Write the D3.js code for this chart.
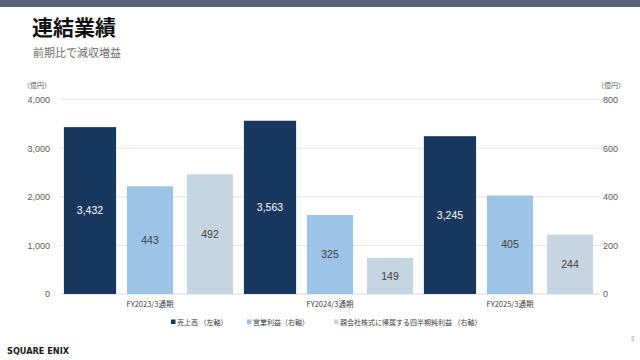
<!DOCTYPE html>
<html><head><meta charset="utf-8">
<script src="https://cdn.jsdelivr.net/npm/d3@7"></script>
<style>
html,body{margin:0;padding:0;background:#fff;}
svg{display:block;font-family:"Noto Sans CJK JP","Noto Sans",sans-serif;}
</style></head>
<body>
<svg id="c" width="640" height="360"></svg>
<script>
const categories = ["FY2023/3通期", "FY2024/3通期", "FY2025/3通期"];
const sales = [3432, 3563, 3245];          // 売上高（左軸）
const operatingIncome = [443, 325, 405];   // 営業利益（右軸）
const netIncome = [492, 149, 244];         // 親会社株式に帰属する四半期純利益（右軸）
const leftTicks = [0, 1000, 2000, 3000, 4000];
const rightTicks = [0, 200, 400, 600, 800];
const seriesNames = ["売上高 （左軸）", "営業利益（右軸）", "親会社株式に帰属する四半期純利益 （右軸）"];

(function () {
const svg = d3.select("#c");
const colors = ["#17375e", "#9dc3e6", "#c5d5e1"];
const labelColors = ["#ffffff", "#404040", "#404040"];
const widthFrac = [0.87, 0.77, 0.77];
const numFont = '"Liberation Sans","Arial",sans-serif';

// header band
svg.append("rect").attr("x",0).attr("y",0).attr("width",640).attr("height",7).attr("fill","#5b6577");
svg.append("text").attr("x",32).attr("y",35).attr("font-size",21).attr("font-weight","bold").attr("fill","#111").text("連結業績");
svg.append("text").attr("x",33).attr("y",57).attr("font-size",11).attr("fill","#6f6f6f").text("前期比で減収増益");

const pl = 60, pr = 600, pt = 99.5, pb = 294;
const x0 = d3.scaleBand().domain(categories).range([pl, pr]).padding(0);
const x1 = d3.scaleBand().domain([0,1,2]).range([0, x0.bandwidth()]).padding(0);
const yL = d3.scaleLinear().domain([0, 4000]).range([pb, pt]);
const yR = d3.scaleLinear().domain([0, 800]).range([pb, pt]);

// gridlines
svg.append("g").selectAll("line").data(leftTicks).join("line")
  .attr("x1", pl).attr("x2", pr)
  .attr("y1", d => yL(d)).attr("y2", d => yL(d))
  .attr("stroke", d => d === 0 ? "#d9d9d9" : "#e8e8e8").attr("stroke-width", 1);

// axes
const axL = svg.append("g").attr("transform", `translate(${pl - 10},0)`)
  .call(d3.axisLeft(yL).tickValues(leftTicks).tickSize(0).tickPadding(0).tickFormat(d3.format(",")));
const axR = svg.append("g").attr("transform", `translate(${pr + 3},0)`)
  .call(d3.axisRight(yR).tickValues(rightTicks).tickSize(0).tickPadding(0).tickFormat(d3.format(",")));
[axL, axR].forEach(a => {
  a.select(".domain").remove();
  a.selectAll("text").attr("font-size", 9).attr("fill", "#595959")
    .attr("font-family", numFont);
});
svg.append("text").attr("x",23).attr("y",88).attr("font-size",7).attr("fill","#595959").text("（億円）");
svg.append("text").attr("x",597).attr("y",88).attr("font-size",7).attr("fill","#595959").text("（億円）");

// bars
const series = [
  {vals: sales, scale: yL},
  {vals: operatingIncome, scale: yR},
  {vals: netIncome, scale: yR}
];
series.forEach((s, si) => {
  const w = x1.bandwidth() * widthFrac[si];
  const grp = svg.append("g");
  grp.selectAll("rect").data(s.vals).join("rect")
    .attr("x", (d, i) => x0(categories[i]) + x1(si) + (x1.bandwidth() - w) / 2)
    .attr("width", w)
    .attr("y", d => s.scale(d))
    .attr("height", d => pb - s.scale(d))
    .attr("fill", colors[si]);
  grp.selectAll("text").data(s.vals).join("text")
    .attr("x", (d, i) => x0(categories[i]) + x1(si) + x1.bandwidth() / 2)
    .attr("y", d => (s.scale(d) + pb) / 2)
    .attr("dy", "0.35em")
    .attr("text-anchor", "middle")
    .attr("font-size", 10.5)
    .attr("font-family", numFont)
    .attr("fill", labelColors[si])
    .text(d => d3.format(",")(d));
});

// category labels
svg.append("g").selectAll("text").data(categories).join("text")
  .attr("x", d => x0(d) + x0.bandwidth() / 2)
  .attr("y", 307)
  .attr("text-anchor", "middle")
  .attr("font-size", 7.5)
  .attr("fill", "#404040")
  .text(d => d);

// legend
const legendX = [171, 247, 334];
const lg = svg.append("g");
seriesNames.forEach((n, i) => {
  lg.append("rect").attr("x", legendX[i]).attr("y", 319.5).attr("width", 4.5).attr("height", 4.5).attr("fill", colors[i]);
  lg.append("text").attr("x", legendX[i] + 6).attr("y", 325).attr("font-size", 7).attr("fill", "#404040").text(n);
});

// footer
svg.append("text").attr("x", 631).attr("y", 341).attr("font-size", 6).attr("fill", "#aaa").text("8");
svg.append("text").attr("x", 7).attr("y", 354).attr("font-size", 9.5).attr("font-weight", "bold")
  .attr("font-family", '"DejaVu Sans","Liberation Sans",sans-serif')
  .attr("textLength", 62).attr("lengthAdjust", "spacingAndGlyphs")
  .attr("fill", "#1a1a1a").text("SQUARE ENIX");
})();
</script>
</body></html>
